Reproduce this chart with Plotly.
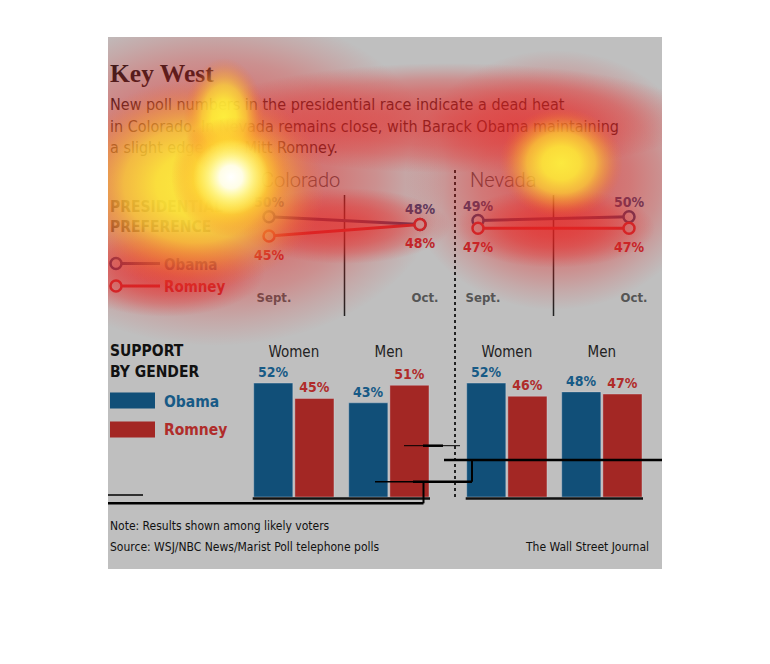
import numpy as np
import plotly.graph_objects as go

W, H = 770, 664

# ---------------- data ----------------
months = ["Sept.", "Oct."]
states = ["Colorado", "Nevada"]
co_obama = [50, 48]
co_romney = [45, 48]
nv_obama = [49, 50]
nv_romney = [47, 47]

genders = ["Women", "Men"]
co_obama_gender = [52, 43]
co_romney_gender = [45, 51]
nv_obama_gender = [52, 48]
nv_romney_gender = [46, 47]

title_text = "Key West"
subtitle_lines = [
    "New poll numbers in the presidential race indicate a dead heat",
    "in Colorado. In Nevada remains close, with Barack Obama maintaining",
    "a slight edge over Mitt Romney.",
]
pref_lines = ["PRESIDENTIAL", "PREFERENCE"]
gender_lines = ["SUPPORT", "BY GENDER"]
candidates = ["Obama", "Romney"]
note_text = "Note: Results shown among likely voters"
source_text = "Source: WSJ/NBC News/Marist Poll telephone polls"
credit_text = "The Wall Street Journal"

# ---------------- style ----------------
NARROW = "DejaVu Sans Condensed, DejaVu Sans, sans-serif"
LIGHT = "Roboto, Open Sans, DejaVu Sans, sans-serif"
SERIF = "Liberation Serif, DejaVu Serif, serif"
GREY_BG = "#bfbfbf"
OBAMA_LINE = "#2f3d6b"
ROMNEY_LINE = "#c1272d"
OBAMA_BAR = "#114f78"
ROMNEY_BAR = "#a32724"
OBAMA_BAR_TXT = "#175a86"
ROMNEY_BAR_TXT = "#b02c2a"


def fx(px):
    return px / W


def fy(py):
    return 1 - py / H


traces = []


def txt(x, base, s, size, color, family=NARROW, weight="normal", align="left"):
    traces.append(go.Scatter(
        x=[x], y=[base - 0.25 * size], mode="text", text=[s],
        textposition="middle right" if align == "left" else "middle left",
        textfont=dict(size=size, color=color, family=family, weight=weight),
        xaxis="x", yaxis="y", hoverinfo="skip", showlegend=False, cliponaxis=False))


# ---- static texts (canvas subplot in pixel space) ----
txt(110, 82, title_text, 25.5, "#1a1a1a", SERIF, "bold")
for i, line in enumerate(subtitle_lines):
    txt(110, 110 + i * 21.5, line, 16, "#1c1c1c")
txt(261, 187, states[0], 20, "#4d4d4d", LIGHT, 300)
txt(470, 187, states[1], 20, "#4d4d4d", LIGHT, 300)
for i, line in enumerate(pref_lines):
    txt(110, 212 + i * 20, line, 15.5, "#333333", weight="bold")
for i, line in enumerate(gender_lines):
    txt(110, 356 + i * 21, line, 15.5, "#111111", weight="bold")
txt(164, 270, candidates[0], 15, "#33406e", weight="bold")
txt(164, 292, candidates[1], 15, "#b8262b", weight="bold")
txt(164, 407, candidates[0], 15.5, OBAMA_BAR_TXT, weight="bold")
txt(164, 435, candidates[1], 15.5, ROMNEY_BAR_TXT, weight="bold")
txt(110, 530, note_text, 12, "#111111")
txt(110, 551, source_text, 12, "#111111")
txt(649, 551, credit_text, 12, "#111111", align="right")

# legend swatches for the line charts
for yy, col in [(263.5, OBAMA_LINE), (286, ROMNEY_LINE)]:
    traces.append(go.Scatter(x=[116, 160], y=[yy, yy], mode="lines",
                             line=dict(color=col, width=3), xaxis="x", yaxis="y",
                             hoverinfo="skip", showlegend=False))
    traces.append(go.Scatter(x=[116], y=[yy], mode="markers",
                             marker=dict(size=11, color=GREY_BG, line=dict(color=col, width=2.5)),
                             xaxis="x", yaxis="y", hoverinfo="skip", showlegend=False))

# ---- line charts ----
line_panels = [(co_obama, co_romney, "x2", "y2"), (nv_obama, nv_romney, "x3", "y3")]
for ob, ro, xa, ya in line_panels:
    for vals, col in [(ob, OBAMA_LINE), (ro, ROMNEY_LINE)]:
        traces.append(go.Scatter(
            x=months, y=vals, mode="lines+markers",
            line=dict(color=col, width=3),
            marker=dict(size=11, color=GREY_BG, line=dict(color=col, width=2.5)),
            xaxis=xa, yaxis=ya, hoverinfo="skip", showlegend=False, cliponaxis=False))
    # value labels; an invisible marker sets the label offset from the point
    for vals, col, pos, msize in [(ob, "#33406e", "top center", 8.8), (ro, "#b8262b", "bottom center", 20)]:
        traces.append(go.Scatter(
            x=months, y=vals, mode="markers+text",
            text=[f"{v}%" for v in vals], textposition=pos,
            textfont=dict(size=14, color=col, family=NARROW, weight="bold"),
            marker=dict(size=msize, color="rgba(0,0,0,0)"),
            xaxis=xa, yaxis=ya, hoverinfo="skip", showlegend=False, cliponaxis=False))

# ---- bar charts ----
bar_panels = [(co_obama_gender, co_romney_gender, "x4", "y4"), (nv_obama_gender, nv_romney_gender, "x5", "y5")]
for ob, ro, xa, ya in bar_panels:
    for vals, col, tcol in [(ob, OBAMA_BAR, OBAMA_BAR_TXT), (ro, ROMNEY_BAR, ROMNEY_BAR_TXT)]:
        traces.append(go.Bar(
            x=genders, y=vals, marker=dict(color=col, line=dict(color="rgba(220,220,230,0.35)", width=1)),
            text=[f"{v}%" for v in vals], textposition="outside", constraintext="none",
            textfont=dict(size=14, color=tcol, family=NARROW, weight="bold"),
            xaxis=xa, yaxis=ya, hoverinfo="skip", showlegend=False, cliponaxis=False))

# ---- heat overlay (eye-tracking style blobs), drawn last, clipped to the panel ----
blob_scales = {
    "red": [[0, "rgba(232,34,32,0.6)"], [0.25, "rgba(232,34,32,0.56)"], [0.5, "rgba(232,34,32,0.45)"],
            [0.7, "rgba(232,34,32,0.3)"], [0.85, "rgba(232,34,32,0.14)"], [1, "rgba(232,34,32,0)"]],
    "yellow": [[0, "rgba(255,245,60,0.92)"], [0.3, "rgba(255,238,55,0.88)"], [0.55, "rgba(255,215,50,0.72)"],
               [0.75, "rgba(252,170,45,0.42)"], [0.9, "rgba(248,130,45,0.15)"], [1, "rgba(245,110,45,0)"]],
    "white": [[0, "rgba(255,255,255,1)"], [0.3, "rgba(255,255,250,0.9)"], [0.6, "rgba(255,255,200,0.5)"],
              [1, "rgba(255,255,150,0)"]],
}
blobs = [
    (215, 178, 230, 168, "red"),
    (555, 180, 150, 130, "red"),
    (450, 118, 250, 55, "red"),
    (165, 272, 100, 45, "red"),
    (555, 228, 100, 40, "red"),
    (345, 226, 105, 38, "red"),
    (195, 185, 130, 105, "yellow"),
    (224, 118, 40, 60, "yellow"),
    (231, 177, 60, 60, "yellow"),
    (561, 163, 62, 55, "yellow"),
    (231, 177, 38, 38, "white"),
]
theta = np.linspace(0, 2 * np.pi, 73)
for cx, cy, rx, ry, kind in blobs:
    traces.append(go.Scatter(
        x=cx + rx * np.cos(theta), y=cy + ry * np.sin(theta), mode="lines",
        line=dict(width=0, color="rgba(0,0,0,0)"), fill="toself",
        fillgradient=dict(type="radial", colorscale=blob_scales[kind]),
        xaxis="x6", yaxis="y6", hoverinfo="skip", showlegend=False))

fig = go.Figure(traces)

hidden = dict(visible=False, fixedrange=True)
# line chart geometry: 3.87 px per point, 50% sits at y=216.7 px
ppp_line = 3.87
line_top, line_bot, ref_y = 196, 288, 216.7
line_range = [50 - (line_bot - ref_y) / ppp_line, 50 + (ref_y - line_top) / ppp_line]
# bar chart geometry: 2.19 px per point, baseline at 497 px, top 361 px
bar_top, bar_bot, ppp_bar = 361, 497, 2.19
bar_range = [0, (bar_bot - bar_top) / ppp_bar]
cat_range = [-0.433, 1.433]
PX0, PX1, PY0, PY1 = 108, 662, 37, 569  # grey panel

tick_font_line = dict(size=13, color="#555555", family=NARROW, weight="bold")
tick_font_bar = dict(size=15, color="#222222", family=NARROW)

fig.update_layout(
    width=W, height=H, margin=dict(l=0, r=0, t=0, b=0, pad=0, autoexpand=False),
    paper_bgcolor="white", plot_bgcolor="rgba(0,0,0,0)",
    showlegend=False, barmode="group", bargap=0.134, bargroupgap=0.05,
    xaxis=dict(domain=[0, 1], range=[0, W], **hidden),
    yaxis=dict(domain=[0, 1], range=[H, 0], **hidden),
    xaxis2=dict(domain=[fx(269), fx(420)], anchor="y2", type="category", range=[0, 1],
                showgrid=False, zeroline=False, showline=False, ticks="",
                tickfont=tick_font_line, ticklabelshift=5, fixedrange=True),
    yaxis2=dict(domain=[fy(line_bot), fy(line_top)], anchor="x2", range=line_range, **hidden),
    xaxis3=dict(domain=[fx(478), fx(629)], anchor="y3", type="category", range=[0, 1],
                showgrid=False, zeroline=False, showline=False, ticks="",
                tickfont=tick_font_line, ticklabelshift=5, fixedrange=True),
    yaxis3=dict(domain=[fy(line_bot), fy(line_top)], anchor="x3", range=line_range, **hidden),
    xaxis4=dict(domain=[fx(252.7), fx(430)], anchor="y4", range=cat_range, side="top",
                showgrid=False, zeroline=False, showline=False, ticks="",
                tickfont=tick_font_bar, fixedrange=True),
    yaxis4=dict(domain=[fy(bar_bot), fy(bar_top)], anchor="x4", range=bar_range, **hidden),
    xaxis5=dict(domain=[fx(465.7), fx(643)], anchor="y5", range=cat_range, side="top",
                showgrid=False, zeroline=False, showline=False, ticks="",
                tickfont=tick_font_bar, fixedrange=True),
    yaxis5=dict(domain=[fy(bar_bot), fy(bar_top)], anchor="x5", range=bar_range, **hidden),
    xaxis6=dict(domain=[fx(PX0), fx(PX1)], range=[PX0, PX1], anchor="y6", **hidden),
    yaxis6=dict(domain=[fy(PY1), fy(PY0)], range=[PY1, PY0], anchor="x6", **hidden),
)

shapes = [
    # grey panel
    dict(type="rect", xref="paper", yref="paper", x0=fx(PX0), x1=fx(PX1), y0=fy(PY1), y1=fy(PY0),
         fillcolor=GREY_BG, line=dict(width=0), layer="below"),
    # dotted separator
    dict(type="line", xref="paper", yref="paper", x0=fx(455), x1=fx(455), y0=fy(170), y1=fy(500),
         line=dict(color="#222222", width=2, dash="dot"), layer="below"),
    # month dividers inside each line chart
    dict(type="line", xref="x2 domain", yref="paper", x0=0.5, x1=0.5, y0=fy(195), y1=fy(316),
         line=dict(color="#222222", width=1.5), layer="below"),
    dict(type="line", xref="x3 domain", yref="paper", x0=0.5, x1=0.5, y0=fy(195), y1=fy(316),
         line=dict(color="#222222", width=1.5), layer="below"),
    # bar baselines
    dict(type="line", xref="x4 domain", yref="paper", x0=0, x1=1, y0=fy(498.5), y1=fy(498.5),
         line=dict(color="#111111", width=2.5), layer="below"),
    dict(type="line", xref="x5 domain", yref="paper", x0=0, x1=1, y0=fy(498.5), y1=fy(498.5),
         line=dict(color="#111111", width=2.5), layer="below"),
    # bar legend swatches
    dict(type="rect", xref="paper", yref="paper", x0=fx(110), x1=fx(155), y0=fy(408.5), y1=fy(392.5),
         fillcolor=OBAMA_BAR, line=dict(width=0), layer="below"),
    dict(type="rect", xref="paper", yref="paper", x0=fx(110), x1=fx(155), y0=fy(437.5), y1=fy(421.5),
         fillcolor=ROMNEY_BAR, line=dict(width=0), layer="below"),
]
# stray black rules present in the reference image
rules = [
    (108, 495, 143, 495, 1.5), (108, 503.3, 423.5, 503.3, 2.5), (423.5, 481.7, 423.5, 503.3, 2),
    (375, 481.7, 472, 481.7, 1.5), (413, 481.7, 472, 481.7, 2.5), (472, 460, 472, 481.7, 2),
    (444, 460, 662, 460, 2.5), (404, 445.7, 460, 445.7, 1), (423, 445.7, 443, 445.7, 2.5),
]
for x0, y0, x1, y1, w in rules:
    shapes.append(dict(type="line", xref="paper", yref="paper", x0=fx(x0), x1=fx(x1), y0=fy(y0), y1=fy(y1),
                       line=dict(color="black", width=w), layer="above"))
fig.update_layout(shapes=shapes)

fig.write_html("out.html", config={"displayModeBar": False, "responsive": False},
               post_script="document.body.style.margin='0';document.body.style.overflow='hidden';")
